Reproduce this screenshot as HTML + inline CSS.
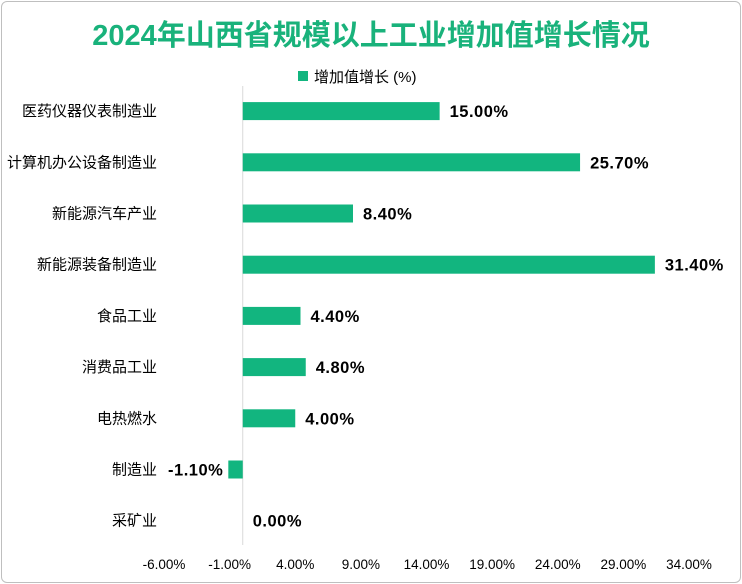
<!DOCTYPE html>
<html><head><meta charset="utf-8"><style>
body{margin:0;background:#fff;}
#wrap{position:relative;width:742px;height:584px;overflow:hidden;font-family:"Liberation Sans","Noto Sans CJK SC",sans-serif;}
#frame{position:absolute;left:1px;top:1px;width:738px;height:580px;border:1px solid #bfbfbf;border-radius:6px;}
#title{position:absolute;left:0;width:742px;top:12px;text-align:center;font-size:29px;font-weight:bold;color:#19b27b;}
</style></head><body>
<div id="wrap">
<div id="frame"></div>
<div id="title">2024年山西省规模以上工业增加值增长情况</div>
<svg id="chart" width="742" height="584" style="position:absolute;left:0;top:0"></svg>
</div>
<script>
const categories=["医药仪器仪表制造业","计算机办公设备制造业","新能源汽车产业","新能源装备制造业","食品工业","消费品工业","电热燃水","制造业","采矿业"];
const values=[15.0,25.7,8.4,31.4,4.4,4.8,4.0,-1.1,0.0];
const ticks=[-6,-1,4,9,14,19,24,29,34];
const tickLabels=["-6.00%","-1.00%","4.00%","9.00%","14.00%","19.00%","24.00%","29.00%","34.00%"];
const svg=document.getElementById('chart');
const NS='http://www.w3.org/2000/svg';
const x0=164,x1=689,vmin=-6,vmax=34;
function x(v){return x0+(v-vmin)/(vmax-vmin)*(x1-x0);}
const top0=85.5,band=51.2;
function yc(i){return top0+band*(i+0.5);}
function mk(tag,attrs,text){const e=document.createElementNS(NS,tag);for(const k in attrs)e.setAttribute(k,attrs[k]);if(text!==undefined)e.textContent=text;svg.appendChild(e);return e;}
const axis=mk('line',{x1:x(0),x2:x(0),y1:86,y2:545,stroke:'#d9d9d9','stroke-width':1});


const lg=mk('rect',{x:298,y:71,width:10,height:10,fill:'#12b57f'});


const lt=mk('text',{x:314,y:82,'font-size':15,fill:'#000'},'增加值增长 (%)');


ticks.forEach((t,i)=>{
 const e=mk('text',{x:x(t),y:569,'font-size':13.5,'text-anchor':'middle',fill:'#000'},tickLabels[i]);
 
 
});
categories.forEach((c,i)=>{
 const v=values[i],y=yc(i);
 const cl=mk('text',{x:157,y:y+5,'font-size':15,'text-anchor':'end',fill:'#000'},c);
 
 
 const bx=Math.min(x(0),x(v)),bw=Math.abs(x(v)-x(0));
 const r=mk('rect',{x:bx,y:y-9,width:bw,height:18,fill:'#12b57f'});
 
 
 const lbl=v.toFixed(2)+'%';
 const vx=v<0?bx-5:x(v)+10;
 const vl=mk('text',{x:vx,y:y+6,'font-size':16.5,'font-weight':'bold','letter-spacing':0.5,'text-anchor':v<0?'end':'start',fill:'#000'},lbl);
 
 
});
</script>
</body></html>
